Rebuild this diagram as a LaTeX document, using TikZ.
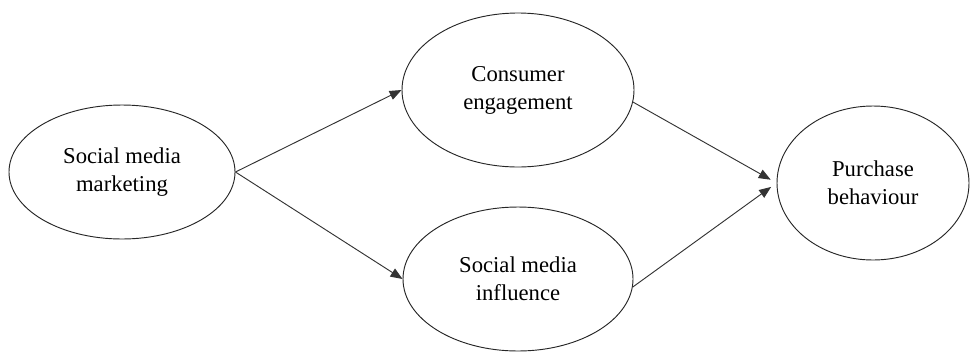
\documentclass[tikz,border=0pt]{standalone}
\usepackage{fontspec}
\setmainfont{Liberation Serif}
\usetikzlibrary{shapes.geometric,arrows.meta}
\begin{document}
\begin{tikzpicture}[
  x=0.75pt, y=-0.75pt,
  construct/.style={ellipse, draw=black!85, line width=0.7pt, inner sep=0pt,
    align=center, font=\fontsize{17}{21}\selectfont},
  link/.style={draw=black!80, line width=0.7pt,
    -{Triangle[length=9pt,width=7pt]}}
]
\useasboundingbox (0,0) rectangle (978,351);

% constructs
\node[construct, minimum width=169.5pt, minimum height=100.5pt] (smm) at (122,172) {Social media\\marketing};
\node[construct, minimum width=174pt, minimum height=115.5pt] (ce) at (518,90) {Consumer\\engagement};
\node[construct, minimum width=172.5pt, minimum height=108pt] (smi) at (518,279) {Social media\\influence};
\node[construct, minimum width=144pt, minimum height=115.5pt] (pb) at (873,183) {Purchase\\behaviour};

% paths
\draw[link] (smm.east) -- (ce.west);
\draw[link] (smm.east) -- (smi.west);
\draw[link, shorten >=5pt] (ce.-6) -- (pb.west);
\draw[link, shorten >=5pt] (smi.-4) -- (pb.west);
\end{tikzpicture}
\end{document}
